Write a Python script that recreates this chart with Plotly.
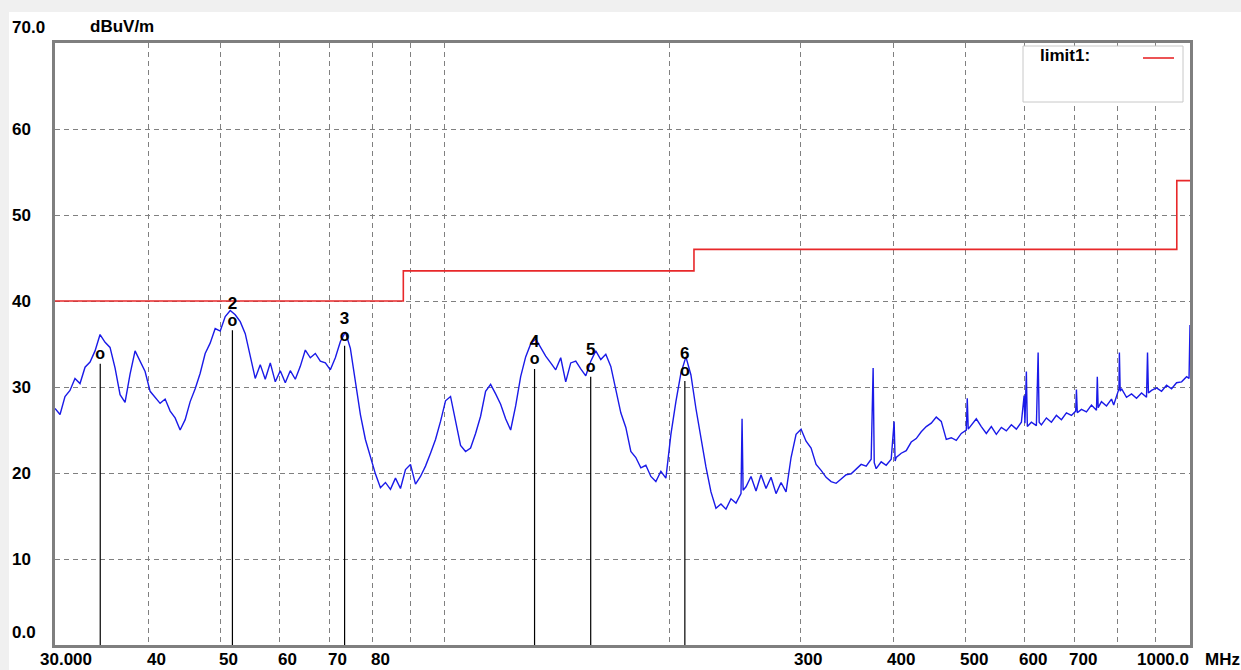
import math
import plotly.graph_objects as go

# ---------------- data ----------------
freq_mhz = [
    30.00, 30.47, 30.94, 31.42, 31.91, 32.41, 32.92, 33.43, 33.95, 34.48,
    35.02, 35.56, 36.12, 36.68, 37.25, 37.83, 38.42, 39.02, 39.63, 40.25,
    40.87, 41.51, 42.16, 42.82, 43.48, 44.16, 44.85, 45.55, 46.26, 46.98,
    47.71, 48.45, 49.21, 49.98, 50.76, 51.55, 52.35, 53.17, 54.00, 54.84,
    55.69, 56.56, 57.44, 58.34, 59.25, 60.17, 61.11, 62.06, 63.03, 64.01,
    65.01, 66.02, 67.05, 68.10, 69.16, 70.24, 71.33, 72.45, 73.58, 74.72,
    75.89, 77.07, 78.27, 79.49, 80.73, 81.99, 83.27, 84.57, 85.89, 87.23,
    88.59, 89.97, 91.37, 92.80, 94.24, 95.71, 97.20, 98.72, 100.26, 101.82,
    103.41, 105.02, 106.66, 108.32, 110.01, 111.73, 113.47, 115.24, 117.04, 118.86,
    120.71, 122.60, 124.51, 126.45, 128.42, 130.42, 132.46, 134.52, 136.62, 138.75,
    140.91, 143.11, 145.34, 147.61, 149.91, 152.25, 154.62, 157.03, 159.48, 161.97,
    164.49, 167.06, 169.66, 172.31, 174.99, 177.72, 180.49, 183.31, 186.16, 189.07,
    192.02, 195.01, 198.05, 201.14, 204.27, 207.46, 210.69, 213.98, 217.31, 220.70,
    224.14, 227.64, 231.19, 234.79, 238.45, 242.17, 245.94, 249.78, 250.60, 251.40,
    253.67, 257.62, 261.64, 265.72, 269.86, 274.07, 278.34, 282.68, 287.09, 291.56,
    296.11, 300.72, 305.41, 310.17, 315.01, 319.92, 324.90, 329.97, 335.11, 340.34,
    345.64, 351.03, 356.50, 362.06, 367.70, 373.43, 375.70, 377.00, 379.26, 385.17,
    391.17, 397.27, 400.90, 402.10, 403.46, 409.75, 416.14, 422.62, 429.21, 435.90,
    442.70, 449.60, 456.60, 463.72, 470.95, 478.29, 485.75, 493.32, 501.01, 502.50,
    504.00, 508.82, 516.75, 524.80, 532.98, 541.29, 549.73, 558.30, 567.00, 575.84,
    584.82, 593.93, 599.00, 600.50, 603.19, 605.00, 612.59, 622.14, 625.50, 627.50,
    631.84, 641.69, 651.69, 661.85, 672.17, 682.65, 693.29, 702.50, 704.10, 706.00,
    715.07, 726.22, 737.54, 749.04, 751.00, 753.00, 760.71, 772.57, 784.62, 790.00,
    796.85, 803.00, 804.00, 806.00, 809.27, 821.88, 834.70, 847.71, 860.92, 874.34,
    877.00, 879.50, 887.97, 901.81, 915.87, 930.15, 944.65, 959.37, 974.33, 989.52,
    997.00, 1000.00,
]
level_dbuv = [
    27.5, 26.8, 28.9, 29.6, 31.0, 30.4, 32.3, 32.9, 34.2, 36.1,
    35.2, 34.6, 32.2, 29.1, 28.2, 31.5, 34.2, 33.0, 31.8, 29.5,
    28.8, 28.1, 28.6, 27.2, 26.4, 25.0, 26.2, 28.3, 29.8, 31.6,
    33.9, 35.1, 36.8, 36.5, 38.2, 38.9, 38.4, 37.6, 36.2, 33.5,
    31.0, 32.6, 30.9, 32.8, 30.6, 31.9, 30.5, 31.9, 30.9, 32.4,
    34.3, 33.4, 33.9, 33.0, 32.8, 32.0, 33.4, 35.3, 36.4, 34.5,
    30.5, 26.8, 23.9, 21.8, 19.9, 18.3, 18.9, 18.1, 19.4, 18.2,
    20.4, 21.0, 18.7, 19.6, 20.8, 22.3, 23.9, 26.0, 28.4, 28.9,
    26.0, 23.2, 22.5, 22.9, 24.6, 26.6, 29.5, 30.3, 29.2, 28.0,
    26.3, 25.0, 27.8, 31.2, 33.5, 35.0, 35.6, 34.6, 33.6, 32.8,
    32.0, 33.4, 30.6, 32.8, 33.0, 32.1, 31.3, 33.0, 34.2, 33.2,
    33.8, 32.4, 29.8, 27.0, 25.3, 22.5, 21.8, 20.6, 20.9, 19.6,
    19.0, 20.2, 19.4, 24.5, 28.3, 31.6, 33.5, 31.4, 27.5, 24.0,
    20.7, 17.8, 15.9, 16.4, 15.8, 17.0, 16.5, 17.6, 26.3, 18.0,
    18.4, 19.6, 17.9, 19.8, 18.2, 19.5, 17.6, 18.9, 17.8, 21.8,
    24.5, 25.1, 23.7, 22.9, 21.0, 20.3, 19.5, 19.0, 18.8, 19.3,
    19.8, 19.9, 20.4, 21.0, 20.8, 21.6, 32.2, 21.2, 20.5, 21.3,
    20.9, 21.6, 26.0, 21.4, 21.8, 22.3, 22.6, 23.6, 24.0, 24.8,
    25.4, 25.8, 26.5, 26.0, 23.9, 24.1, 23.8, 24.6, 25.0, 28.7,
    25.1, 25.6, 26.3, 25.4, 24.6, 25.4, 24.5, 25.3, 24.9, 25.6,
    25.1, 25.9, 29.0, 25.8, 31.8, 25.4, 25.9, 25.5, 34.0, 25.9,
    25.6, 26.4, 25.9, 26.7, 26.2, 27.0, 26.7, 27.2, 29.7, 27.0,
    27.4, 27.1, 27.9, 27.3, 31.2, 27.6, 28.3, 27.8, 28.6, 27.9,
    29.0, 29.8, 34.0, 29.5, 29.8, 28.8, 29.2, 28.7, 29.3, 28.8,
    34.0, 29.3, 29.6, 29.9, 29.5, 30.2, 29.8, 30.5, 30.6, 31.2,
    31.0, 37.2,
]

limit_freq = [30, 88, 216, 960, 1000]
limit_level = [40, 43.5, 46, 54, 54]

marker_freq = [34.5, 51.9, 73.4, 132.0, 157.0, 210.0]
marker_level = [33.7, 37.6, 35.8, 33.1, 32.2, 31.7]
marker_label = ["", "2", "3", "4", "5", "6"]

x_grid = [40, 50, 60, 70, 80, 90, 100, 200, 300, 400, 500, 600, 700, 800, 900]
x_tick_vals = [30, 40, 50, 60, 70, 80, 300, 400, 500, 600, 700, 1000]
x_tick_text = ["30.000", "40", "50", "60", "70", "80", "300", "400", "500", "600", "700", "1000.0"]
y_tick_vals = [0, 10, 20, 30, 40, 50, 60, 70]
y_tick_text = ["0.0", "10", "20", "30", "40", "50", "60", "70.0"]

# ---------------- layout geometry ----------------
W, H = 1241, 670
L, R, T, B = 55, 1190, 43, 645


def px_x(px):
    return (px - L) / (R - L)


def px_y(py):
    return (B - py) / (B - T)


FONT = "Liberation Sans"
FS = 17
TXT = dict(family=FONT, size=FS, color="black", weight="bold")

fig = go.Figure()

# measurement trace
fig.add_trace(go.Scatter(
    x=freq_mhz, y=level_dbuv, mode="lines",
    line=dict(color="#1a1ae8", width=1.4), hoverinfo="skip", showlegend=False))

# limit line
fig.add_trace(go.Scatter(
    x=limit_freq, y=limit_level, mode="lines", line_shape="hv",
    line=dict(color="#e8282a", width=1.6), hoverinfo="skip", showlegend=False))

# marker vertical lines
mx, my = [], []
for f, v in zip(marker_freq, marker_level):
    mx += [f, f, None]
    my += [0, v - 1.0, None]
fig.add_trace(go.Scatter(x=mx, y=my, mode="lines",
                         line=dict(color="black", width=1.2),
                         hoverinfo="skip", showlegend=False))

# marker symbols "o"
fig.add_trace(go.Scatter(
    x=marker_freq, y=marker_level, mode="text", text=["o"] * len(marker_freq),
    textfont=dict(family=FONT, size=16, color="black", weight="bold"),
    textposition="middle center", hoverinfo="skip", showlegend=False))

# marker numbers
fig.add_trace(go.Scatter(
    x=marker_freq, y=[v + 2.0 for v in marker_level], mode="text", text=marker_label,
    textfont=dict(family=FONT, size=17, color="black", weight="bold"),
    textposition="middle center", hoverinfo="skip", showlegend=False))

annotations = []
for v, t in zip(x_tick_vals, x_tick_text):
    if t == "30.000":
        anchor, shift = "left", -17
    elif t == "1000.0":
        anchor, shift = "right", 1
    else:
        anchor, shift = "center", 8
    annotations.append(dict(
        x=math.log10(v), xref="x", y=0, yref="paper", yshift=-14, yanchor="middle",
        xanchor=anchor, xshift=shift, text=t, showarrow=False, font=TXT))
annotations.append(dict(
    x=px_x(1203), xref="paper", y=0, yref="paper", yshift=-14, yanchor="middle",
    xanchor="left", text="MHz", showarrow=False, font=TXT))

for v, t in zip(y_tick_vals, y_tick_text):
    ys = 0
    if v == 0:
        ys = 13
    elif v == 70:
        ys = 16
    annotations.append(dict(
        x=px_x(10), xref="paper", y=v, yref="y", yshift=ys, yanchor="middle",
        xanchor="left", text=t, showarrow=False, font=TXT))
annotations.append(dict(
    x=px_x(88), xref="paper", y=70, yref="y", yshift=17, yanchor="middle",
    xanchor="left", text="dBuV/m", showarrow=False, font=TXT))

# legend text
annotations.append(dict(
    x=px_x(1038), xref="paper", y=px_y(56), yref="paper", yanchor="middle",
    xanchor="left", text="limit1:", showarrow=False, font=TXT))

shapes = [
    # gray window strips
    dict(type="rect", xref="paper", yref="paper", x0=px_x(0), x1=px_x(W), y0=px_y(12), y1=px_y(0),
         fillcolor="#f0f0f0", line=dict(width=0), layer="below"),
    dict(type="rect", xref="paper", yref="paper", x0=px_x(0), x1=px_x(9), y0=px_y(H), y1=px_y(0),
         fillcolor="#f0f0f0", line=dict(width=0), layer="below"),
    # legend box
    dict(type="rect", xref="paper", yref="paper", x0=px_x(1023), x1=px_x(1183), y0=px_y(102), y1=px_y(46),
         fillcolor="white", line=dict(color="#c8c8c8", width=1), layer="above"),
    dict(type="line", xref="paper", yref="paper", x0=px_x(1143), x1=px_x(1174), y0=px_y(58), y1=px_y(58),
         line=dict(color="#e8282a", width=1.6), layer="above"),
]

fig.update_layout(
    width=W, height=H,
    margin=dict(l=L, r=W - R, t=T, b=H - B, pad=0),
    paper_bgcolor="white", plot_bgcolor="white",
    showlegend=False,
    annotations=annotations,
    shapes=shapes,
    xaxis=dict(
        type="log", range=[math.log10(30), math.log10(1000)],
        tickvals=x_grid, showticklabels=False, ticks="",
        showgrid=True, gridcolor="#808080", gridwidth=1, griddash="5px,4px",
        showline=True, mirror=True, linecolor="#7f7f7f", linewidth=3,
        zeroline=False, fixedrange=True),
    yaxis=dict(
        range=[0, 70], tickvals=[10, 20, 30, 40, 50, 60], showticklabels=False, ticks="",
        showgrid=True, gridcolor="#808080", gridwidth=1, griddash="5px,4px",
        showline=True, mirror=True, linecolor="#7f7f7f", linewidth=3,
        zeroline=False, fixedrange=True),
)

fig.write_html(
    "out.html",
    config={"displayModeBar": False},
    post_script="document.body.style.margin='0';document.body.style.overflow='hidden';",
)
